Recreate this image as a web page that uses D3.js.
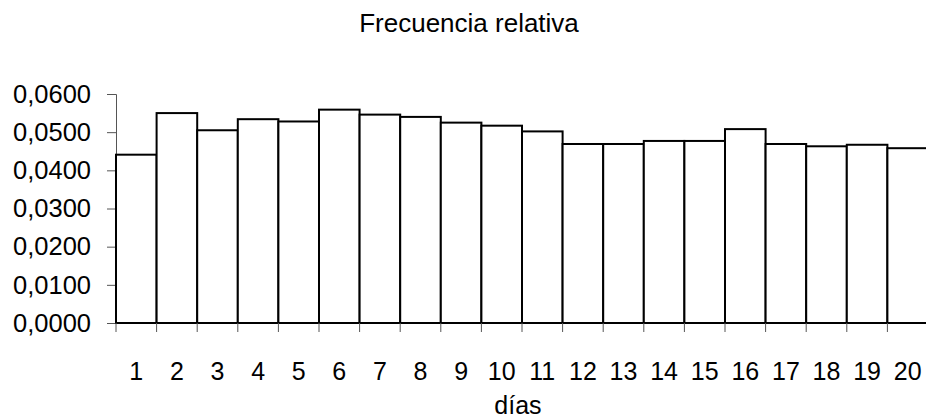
<!DOCTYPE html>
<html>
<head>
<meta charset="utf-8">
<script src="https://cdn.jsdelivr.net/npm/d3@7"></script>
<style>
  body { margin: 0; background: #fff; }
  text { font-family: "Liberation Sans", Arial, sans-serif; fill: #000; }
</style>
</head>
<body>
<div id="chart"></div>
<script>
var dias = d3.range(1, 21).map(String);
var frecuencia = [0.0441, 0.0550, 0.0505, 0.0534, 0.0528, 0.0559, 0.0546, 0.0540, 0.0525, 0.0517,
                  0.0502, 0.0469, 0.0469, 0.0477, 0.0477, 0.0508, 0.0469, 0.0463, 0.0467, 0.0458];
var yTicks = [0, 0.01, 0.02, 0.03, 0.04, 0.05, 0.06];

var svgWidth = 926;
var svgHeight = 419;

var chartMargin = { top: 94, right: -2, bottom: 96, left: 116 };
var chartWidth = svgWidth - chartMargin.left - chartMargin.right;
var chartHeight = svgHeight - chartMargin.top - chartMargin.bottom;

var svg = d3.select("#chart")
  .append("svg")
  .attr("width", svgWidth)
  .attr("height", svgHeight);

var chartGroup = svg.append("g")
  .attr("transform", `translate(${chartMargin.left}, ${chartMargin.top})`);

var xScale = d3.scaleBand()
  .domain(dias)
  .range([0, chartWidth])
  .padding(0);

var yScale = d3.scaleLinear()
  .domain([0, 0.06])
  .range([chartHeight, 0]);

var fmt = d => d3.format(".4f")(d).replace(".", ",");

// y axis
var yAxis = chartGroup.append("g")
  .call(d3.axisLeft(yScale).tickValues(yTicks).tickFormat(fmt).tickSizeOuter(0).tickSize(9).tickPadding(16));
yAxis.select(".domain").attr("stroke", "#555");
yAxis.selectAll(".tick line").attr("stroke", "#555");
yAxis.selectAll("text").style("font-size", "25.5px").attr("fill", "#000");

// bars
chartGroup.selectAll("rect.bar")
  .data(frecuencia)
  .enter()
  .append("rect")
  .attr("class", "bar")
  .attr("x", (d, i) => xScale(dias[i]))
  .attr("y", d => yScale(d))
  .attr("width", xScale.bandwidth())
  .attr("height", d => chartHeight - yScale(d))
  .attr("fill", "#fff")
  .attr("stroke", "#000")
  .attr("stroke-width", 2);

// x axis: ticks at category boundaries
var xAxisG = chartGroup.append("g")
  .attr("transform", `translate(0, ${chartHeight})`);
xAxisG.append("line")
  .attr("x1", 0).attr("x2", chartWidth)
  .attr("y1", 0).attr("y2", 0)
  .attr("stroke", "#000");
xAxisG.selectAll("line.tick")
  .data(dias)
  .enter()
  .append("line")
  .attr("class", "tick")
  .attr("x1", d => xScale(d)).attr("x2", d => xScale(d))
  .attr("y1", 0).attr("y2", 9)
  .attr("stroke", "#555");
xAxisG.selectAll("text")
  .data(dias)
  .enter()
  .append("text")
  .attr("x", d => xScale(d) + xScale.bandwidth() / 2)
  .attr("y", 57)
  .attr("text-anchor", "middle")
  .style("font-size", "25px")
  .text(d => d);

// titles
svg.append("text")
  .attr("x", 469)
  .attr("y", 32)
  .attr("text-anchor", "middle")
  .style("font-size", "26px")
  .text("Frecuencia relativa");

svg.append("text")
  .attr("x", 518)
  .attr("y", 414)
  .attr("text-anchor", "middle")
  .style("font-size", "25px")
  .text("días");
</script>
</body>
</html>
